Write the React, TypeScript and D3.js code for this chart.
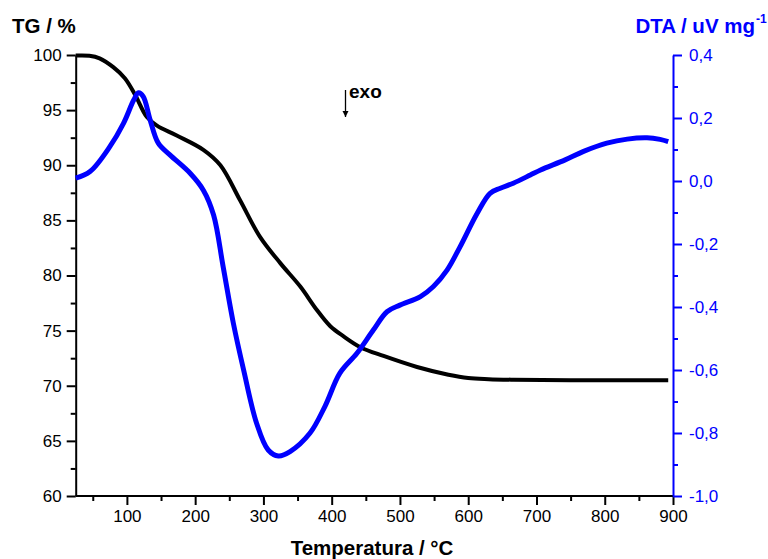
import React, { useEffect, useRef } from 'react';
import * as d3 from 'd3';

// TG curve (mass %)
const tgTemp = [25, 45, 60, 80, 97, 112, 129, 144, 173, 212, 237, 266, 295, 325, 354, 378, 398, 417, 442, 476, 525, 571, 600, 630, 666, 750, 893];
const tgValue = [99.95, 99.93, 99.7, 98.9, 97.9, 96.4, 94.4, 93.6, 92.7, 91.4, 90.0, 86.8, 83.5, 81.1, 79.0, 76.9, 75.4, 74.5, 73.5, 72.7, 71.7, 71.0, 70.7, 70.6, 70.55, 70.5, 70.5];

// DTA curve (uV/mg)
const dtaTemp = [25, 46, 75, 95, 110, 117, 124, 134, 146, 163, 193, 212, 227, 241, 256, 271, 290, 307, 322, 339, 368, 390, 412, 437, 461, 481, 500, 530, 549, 569, 588, 613, 632, 647, 666, 691, 706, 742, 769, 803, 833, 862, 881, 893];
const dtaValue = [0.009, 0.03, 0.109, 0.183, 0.257, 0.28, 0.268, 0.194, 0.12, 0.083, 0.024, -0.029, -0.108, -0.272, -0.452, -0.6, -0.769, -0.854, -0.873, -0.859, -0.801, -0.716, -0.61, -0.547, -0.473, -0.415, -0.394, -0.367, -0.335, -0.283, -0.209, -0.103, -0.039, -0.023, -0.007, 0.019, 0.035, 0.067, 0.094, 0.12, 0.133, 0.137, 0.132, 0.125];

// ticks
const xTicks = [100, 200, 300, 400, 500, 600, 700, 800, 900];
const xMinor = [50, 150, 250, 350, 450, 550, 650, 750, 850];
const tgTicks = [60, 65, 70, 75, 80, 85, 90, 95, 100];
const tgMinor = [62.5, 67.5, 72.5, 77.5, 82.5, 87.5, 92.5, 97.5];
const dtaTicks = [-1.0, -0.8, -0.6, -0.4, -0.2, 0.0, 0.2, 0.4];
const dtaMinor = [-0.9, -0.7, -0.5, -0.3, -0.1, 0.1, 0.3];

const BLUE = '#0000ff';
const FONT = '"Liberation Sans", Arial, sans-serif';

export default function App() {
  const ref = useRef<SVGSVGElement>(null);

  useEffect(() => {
    const svg = d3.select(ref.current);
    svg.selectAll('*').remove();

    const left = 75.7, right = 673, top = 55, bottom = 496;

    const x = d3.scaleLinear().domain([25, 900]).range([left, right]);
    const yTG = d3.scaleLinear().domain([60, 100]).range([bottom, top]);
    const yDTA = d3.scaleLinear().domain([-1, 0.4]).range([bottom, top]);

    const styleAxis = (g: any, color: string) => {
      g.select('.domain').attr('stroke', color).attr('stroke-width', 2);
      g.selectAll('.tick line').attr('stroke', color).attr('stroke-width', 2);
      g.selectAll('.tick text')
        .attr('fill', color)
        .style('font-family', FONT)
        .style('font-size', '17px');
    };

    // bottom axis
    const gx = svg.append('g').attr('transform', 'translate(0,' + bottom + ')');
    gx.call(d3.axisBottom(x).tickValues(xTicks).tickSize(9).tickSizeOuter(0).tickPadding(5) as any);
    styleAxis(gx, '#000');
    gx.select('.domain').attr('d', 'M' + left + ',0H' + right);
    const gxm = svg.append('g').attr('transform', 'translate(0,' + bottom + ')');
    gxm.call(d3.axisBottom(x).tickValues(xMinor).tickSize(5).tickFormat(() => '') as any);
    gxm.select('.domain').remove();
    gxm.selectAll('.tick line').attr('stroke', '#000').attr('stroke-width', 2);

    // left axis
    const gy = svg.append('g').attr('transform', 'translate(' + left + ',0)');
    gy.call(d3.axisLeft(yTG).tickValues(tgTicks).tickSize(9).tickSizeOuter(0).tickPadding(5) as any);
    styleAxis(gy, '#000');
    const gym = svg.append('g').attr('transform', 'translate(' + left + ',0)');
    gym.call(d3.axisLeft(yTG).tickValues(tgMinor).tickSize(5).tickFormat(() => '') as any);
    gym.select('.domain').remove();
    gym.selectAll('.tick line').attr('stroke', '#000').attr('stroke-width', 2);

    // right axis
    const gr = svg.append('g').attr('transform', 'translate(' + right + ',0)');
    gr.call(
      d3.axisRight(yDTA)
        .tickValues(dtaTicks)
        .tickSize(9)
        .tickSizeOuter(0)
        .tickPadding(7)
        .tickFormat((d: any) => (+d).toFixed(1).replace('.', ',')) as any
    );
    styleAxis(gr, BLUE);
    const grm = svg.append('g').attr('transform', 'translate(' + right + ',0)');
    grm.call(d3.axisRight(yDTA).tickValues(dtaMinor).tickSize(5).tickFormat(() => '') as any);
    grm.select('.domain').remove();
    grm.selectAll('.tick line').attr('stroke', BLUE).attr('stroke-width', 2);

    // curves
    const tgLine = d3.line<number>()
      .x((d, i) => x(tgTemp[i]))
      .y((d) => yTG(d))
      .curve(d3.curveCatmullRom.alpha(0.5));
    svg.append('path')
      .attr('d', tgLine(tgValue))
      .attr('fill', 'none')
      .attr('stroke', '#000')
      .attr('stroke-width', 4);

    const dtaLine = d3.line<number>()
      .x((d, i) => x(dtaTemp[i]))
      .y((d) => yDTA(d))
      .curve(d3.curveCatmullRom.alpha(0.5));
    svg.append('path')
      .attr('d', dtaLine(dtaValue))
      .attr('fill', 'none')
      .attr('stroke', BLUE)
      .attr('stroke-width', 5);

    // titles
    svg.append('text')
      .attr('x', 12).attr('y', 33)
      .style('font-family', FONT).style('font-size', '20.5px').style('font-weight', 'bold')
      .text('TG / %');

    svg.append('text')
      .attr('x', 755).attr('y', 33)
      .attr('text-anchor', 'end')
      .attr('fill', BLUE)
      .style('font-family', FONT).style('font-size', '20.5px').style('font-weight', 'bold')
      .text('DTA / uV mg');
    svg.append('text')
      .attr('x', 756).attr('y', 23)
      .attr('fill', BLUE)
      .style('font-family', FONT).style('font-size', '12px').style('font-weight', 'bold')
      .text('-1');

    svg.append('text')
      .attr('x', 372).attr('y', 555)
      .attr('text-anchor', 'middle')
      .style('font-family', FONT).style('font-size', '20.5px').style('font-weight', 'bold')
      .text('Temperatura / °C');

    // exo arrow
    svg.append('defs').append('marker')
      .attr('id', 'arr')
      .attr('viewBox', '0 0 10 10')
      .attr('refX', 10).attr('refY', 5)
      .attr('markerWidth', 5).attr('markerHeight', 5)
      .attr('orient', 'auto')
      .append('path').attr('d', 'M0,0L10,5L0,10z').attr('fill', '#000');
    svg.append('line')
      .attr('x1', 345.5).attr('x2', 345.5)
      .attr('y1', 90).attr('y2', 117)
      .attr('stroke', '#000').attr('stroke-width', 1.3)
      .attr('marker-end', 'url(#arr)');
    svg.append('text')
      .attr('x', 349).attr('y', 98)
      .style('font-family', FONT).style('font-size', '19px').style('font-weight', 'bold')
      .text('exo');
  }, []);

  return (
    <div style={{ position: 'absolute', left: 0, top: 0 }}>
      <svg ref={ref} width={768} height={559} style={{ display: 'block', background: '#fff' }} />
    </div>
  );
}
